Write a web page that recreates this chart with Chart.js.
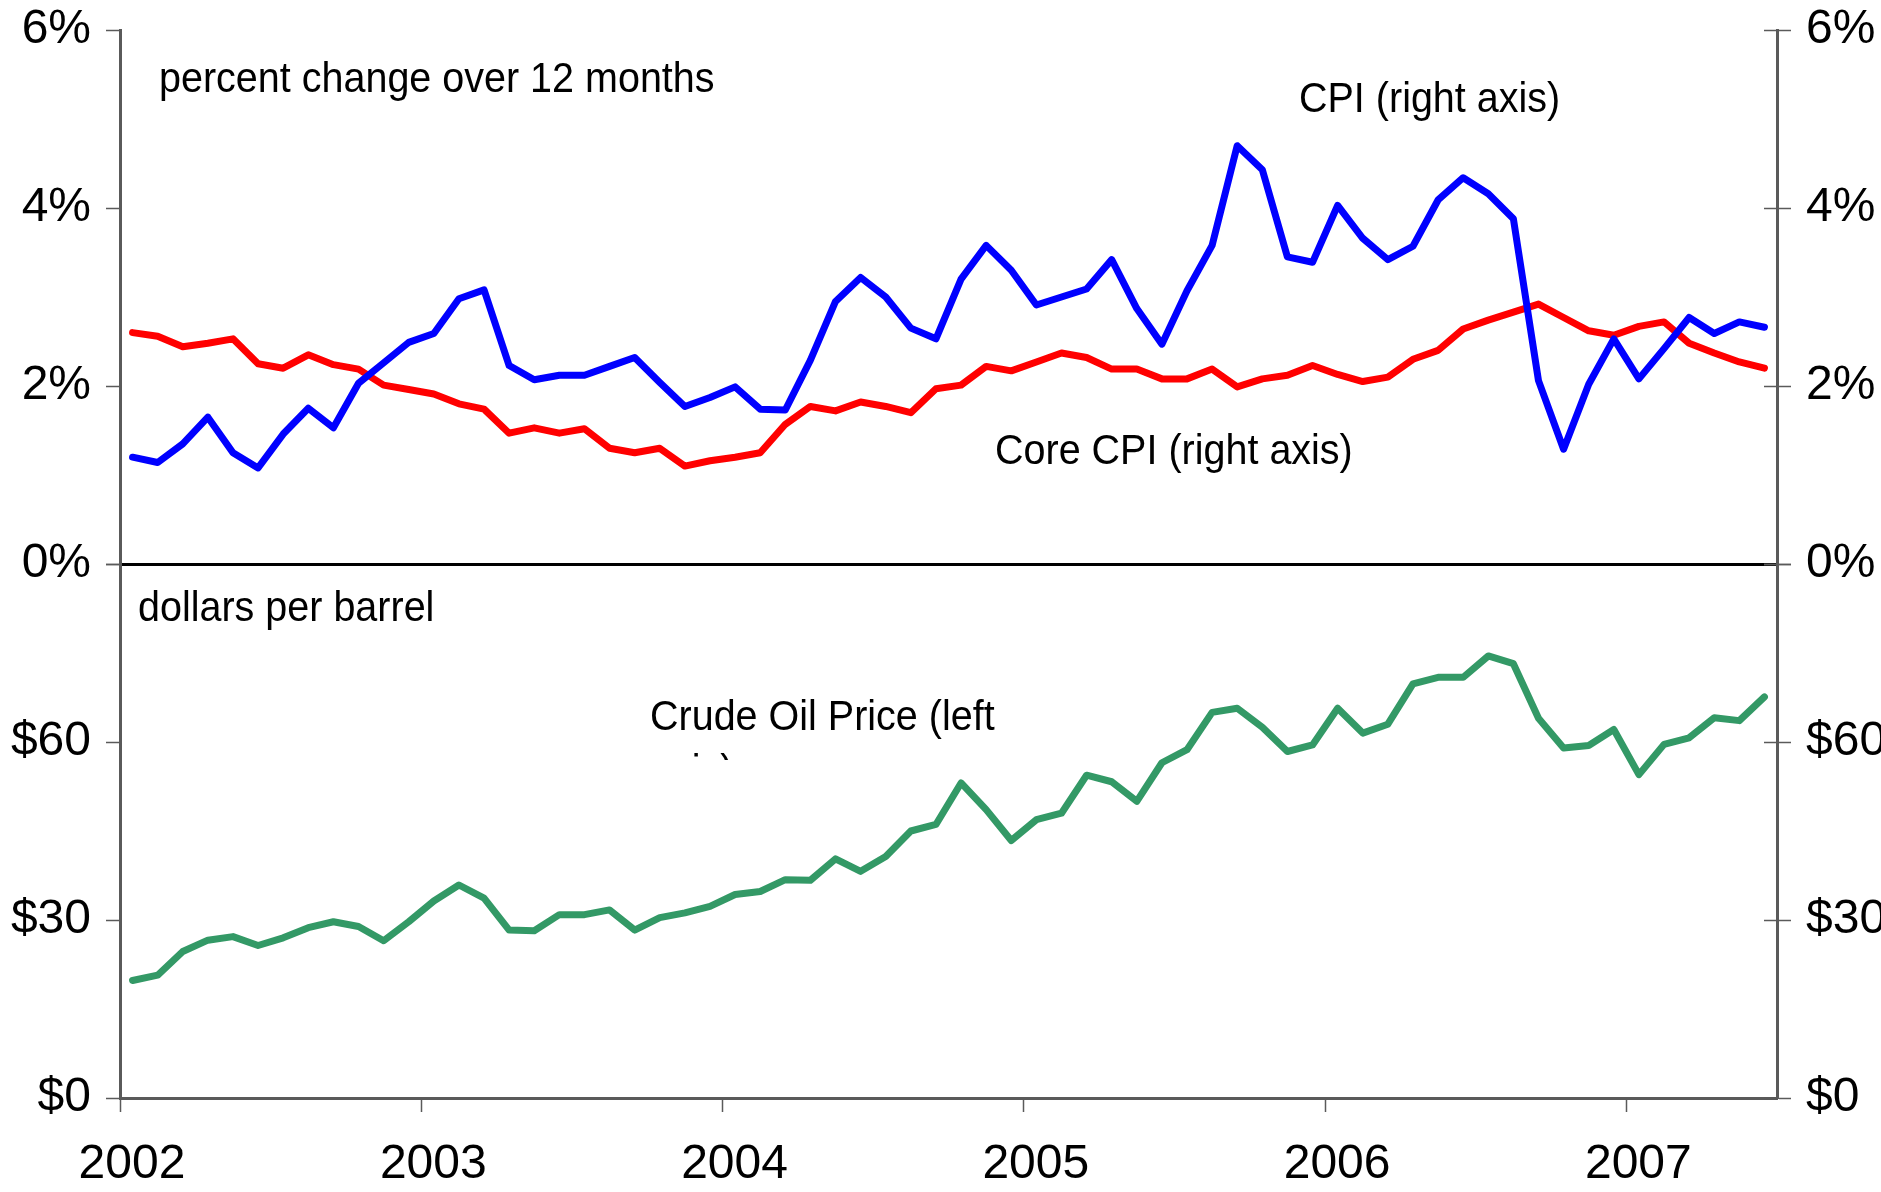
<!DOCTYPE html>
<html>
<head>
<meta charset="utf-8">
<script src="https://cdn.jsdelivr.net/npm/chart.js@4.4.1/dist/chart.umd.min.js"></script>
<style>
	html, body { margin: 0; padding: 0; background: #fff; }
</style>
</head>
<body>
<canvas id="chart" width="1881" height="1192"></canvas>
<script>
// monthly observations, Jan 2002 .. Jun 2007
const startYear = 2002;
const yearTicks = [2002, 2003, 2004, 2005, 2006, 2007];

const cpi = [
	1.20, 1.14, 1.35, 1.65, 1.25, 1.08, 1.46, 1.75, 1.53, 2.03, 2.26, 2.49,
	2.59, 2.98, 3.08, 2.23, 2.07, 2.12, 2.12, 2.22, 2.32, 2.04, 1.77, 1.87,
	1.99, 1.74, 1.73, 2.29, 2.95, 3.22, 3.00, 2.65, 2.53, 3.20, 3.58, 3.30,
	2.91, 3.00, 3.09, 3.42, 2.87, 2.47, 3.07, 3.58, 4.70, 4.43, 3.45, 3.39,
	4.03, 3.66, 3.42, 3.57, 4.09, 4.34, 4.16, 3.88, 2.06, 1.29, 2.02, 2.53,
	2.08, 2.42, 2.77, 2.59, 2.72, 2.66,
];
const coreCpi = [
	2.60, 2.56, 2.44, 2.48, 2.53, 2.25, 2.20, 2.35, 2.24, 2.19, 2.01, 1.96,
	1.91, 1.80, 1.74, 1.47, 1.53, 1.47, 1.52, 1.30, 1.25, 1.30, 1.10, 1.16,
	1.20, 1.25, 1.57, 1.77, 1.72, 1.82, 1.77, 1.70, 1.97, 2.01, 2.22, 2.17,
	2.27, 2.37, 2.32, 2.19, 2.19, 2.08, 2.08, 2.19, 1.99, 2.08, 2.12, 2.23,
	2.13, 2.05, 2.10, 2.30, 2.40, 2.64, 2.74, 2.83, 2.92, 2.77, 2.62, 2.57,
	2.67, 2.72, 2.48, 2.37, 2.27, 2.20,
];
const oil = [
	19.8, 20.7, 24.7, 26.6, 27.2, 25.7, 27.0, 28.7, 29.7, 28.9, 26.5, 29.7,
	33.2, 35.9, 33.7, 28.3, 28.2, 30.9, 30.9, 31.7, 28.3, 30.4, 31.2, 32.3,
	34.3, 34.8, 36.8, 36.7, 40.3, 38.2, 40.7, 45.0, 46.1, 53.1, 48.6, 43.4,
	46.9, 48.0, 54.4, 53.3, 50.0, 56.5, 58.7, 65.0, 65.7, 62.5, 58.4, 59.5,
	65.7, 61.5, 63.0, 69.8, 70.9, 70.9, 74.5, 73.2, 64.0, 59.0, 59.4, 62.1,
	54.5, 59.6, 60.7, 64.1, 63.6, 67.6,
];

// place each month at its middle on a year axis
const toPoints = (arr) => arr.map((v, i) => ({ x: startYear + (i + 0.5) / 12, y: v }));

const FONT = "'Liberation Sans', Arial, sans-serif";
Chart.defaults.font.family = FONT;
Chart.defaults.color = '#000';

const axisGray = '#5a5a5a';
const tickFont = { size: 48 };

const lineStyle = {
	pointRadius: 0,
	borderWidth: 7,
	tension: 0,
	fill: false,
	borderJoinStyle: 'round',
	borderCapStyle: 'round',
};

const notes = [
	{ text: 'percent change over 12 months', x: 159, y: 92 },
	{ text: 'CPI (right axis)', x: 1299, y: 112 },
	{ text: 'Core CPI (right axis)', x: 995, y: 464 },
	{ text: 'dollars per barrel', x: 138, y: 621 },
	{ text: 'Crude Oil Price (left', x: 650, y: 730 },
];

const notesPlugin = {
	id: 'notes',
	afterDraw(chart) {
		const ctx = chart.ctx;
		ctx.save();
		ctx.fillStyle = '#000';
		ctx.font = `39.5px ${FONT}`;
		ctx.textAlign = 'left';
		ctx.textBaseline = 'alphabetic';
		const put = (t, x, y) => {
			ctx.save();
			ctx.translate(x, y);
			ctx.scale(1, 1.1);
			ctx.fillText(t, 0, 0);
			ctx.restore();
		};
		notes.forEach((n) => put(n.text, n.x, n.y));
		// second line of the oil label is cut off in the original
		ctx.save();
		ctx.beginPath();
		ctx.rect(0, 0, chart.width, 760);
		ctx.clip();
		put('axis)', 650, 784);
		ctx.restore();

		// right-hand ticks also cross into the plot
		ctx.strokeStyle = axisGray;
		ctx.lineWidth = 1.5;
		const right = chart.chartArea.right;
		['yTopR', 'yBotR'].forEach((id) => {
			const s = chart.scales[id];
			s.ticks.forEach((t) => {
				const y = Math.round(s.getPixelForValue(t.value)) + 0.5;
				ctx.beginPath();
				ctx.moveTo(right - 13, y);
				ctx.lineTo(right, y);
				ctx.stroke();
			});
		});
		ctx.restore();
	},
};

const pct = (v) => v + '%';
const usd = (v) => (v === 90 ? '' : '$' + v);

// fixed axis width, and no extra room reserved for the end labels
const fitY = (w) => (s) => {
	s.width = w;
	s.paddingTop = 0;
	s.paddingBottom = 0;
};

const yAxis = (opts) => ({
	type: 'linear',
	stackWeight: 1,
	grid: {
		drawOnChartArea: false,
		drawTicks: true,
		tickLength: 14,
		tickColor: axisGray,
		tickWidth: 1.5,
	},
	border: { display: true, color: axisGray, width: 3 },
	...opts,
});

new Chart('chart', {
	type: 'line',
	data: {
		datasets: [
			{ ...lineStyle, label: 'CPI', data: toPoints(cpi), borderColor: '#0000ff', yAxisID: 'yTop' },
			{ ...lineStyle, label: 'Core CPI', data: toPoints(coreCpi), borderColor: '#ff0000', yAxisID: 'yTop' },
			{ ...lineStyle, label: 'Crude Oil Price', data: toPoints(oil), borderColor: '#339966', yAxisID: 'yBot' },
		],
	},
	options: {
		responsive: false,
		animation: false,
		devicePixelRatio: 1,
		layout: { padding: { top: 30, left: 0, right: 0, bottom: 0 } },
		plugins: {
			legend: { display: false },
			tooltip: { enabled: false },
		},
		scales: {
			x: {
				type: 'linear',
				min: 2002,
				max: 2007.5,
				afterBuildTicks: (s) => {
					s.ticks = yearTicks.map((v) => ({ value: v }));
				},
				afterFit: (s) => {
					s.height = 94;
					s.paddingLeft = 0;
					s.paddingRight = 0;
				},
				ticks: {
					callback: (v) => String(v),
					font: tickFont,
					padding: 24,
					labelOffset: 12,
					maxRotation: 0,
					autoSkip: false,
				},
				grid: {
					drawOnChartArea: false,
					drawTicks: true,
					tickLength: 14,
					tickColor: axisGray,
					tickWidth: 1.5,
				},
				border: { display: true, color: axisGray, width: 3 },
			},
			yTop: yAxis({
				position: 'left',
				stack: 'left',
				weight: 1,
				min: 0,
				max: 6,
				afterFit: fitY(120),
				ticks: { stepSize: 2, callback: pct, font: tickFont, padding: 15 },
				grid: {
					drawOnChartArea: true,
					drawTicks: true,
					tickLength: 14,
					tickColor: axisGray,
					tickWidth: 1.5,
					lineWidth: 3,
					color: (c) => (c.tick && c.tick.value === 0 ? '#000' : 'rgba(0,0,0,0)'),
				},
			}),
			yBot: yAxis({
				position: 'left',
				stack: 'left',
				weight: 0,
				min: 0,
				max: 90,
				afterFit: fitY(120),
				ticks: { stepSize: 30, callback: usd, font: tickFont, padding: 15 },
			}),
			yTopR: yAxis({
				position: 'right',
				stack: 'right',
				weight: 0,
				min: 0,
				max: 6,
				afterFit: fitY(104),
				ticks: { stepSize: 2, callback: pct, font: tickFont, padding: 15 },
			}),
			yBotR: yAxis({
				position: 'right',
				stack: 'right',
				weight: 1,
				min: 0,
				max: 90,
				afterFit: fitY(104),
				ticks: { stepSize: 30, callback: usd, font: tickFont, padding: 15 },
			}),
		},
	},
	plugins: [notesPlugin],
});
</script>
</body>
</html>
